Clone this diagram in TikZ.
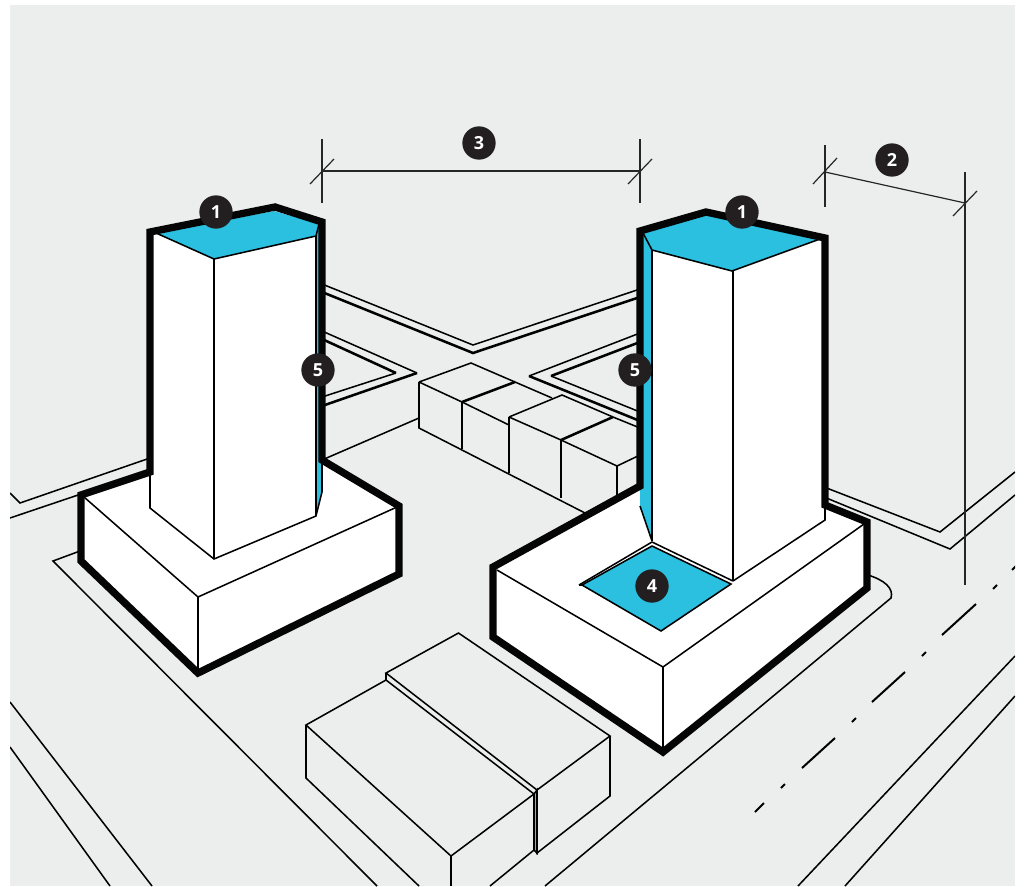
\documentclass[tikz,border=0pt]{standalone}
\usepackage{fontspec}
\setmainfont{Open Sans}
\definecolor{bgc}{HTML}{ECEEED}
\definecolor{bluec}{HTML}{2BBFE0}
\definecolor{badge}{HTML}{231F20}
\tikzset{
  thinl/.style={draw=black,line width=1.15pt,line join=miter,line cap=butt},
  medl/.style={draw=black,line width=1.9pt,line join=miter},
  dashl/.style={draw=black,line width=1.5pt},
  dimen/.style={draw=black!85,line width=0.9pt},
  thickl/.style={draw=black!98,line width=5.5pt,line join=miter,miter limit=6},
  wall/.style={fill=white},
  glass/.style={fill=bluec},
  numbadge/.style={circle,fill=badge,text=white,inner sep=0pt,minimum size=25pt,font=\fontsize{13.5}{14}\selectfont\bfseries}
}
\begin{document}
\begin{tikzpicture}[x=0.75pt,y=-0.75pt]
\useasboundingbox (0,0) rectangle (1024,886);
\fill[white] (0,0) rectangle (1024,886);
\fill[bgc] (10,5) rectangle (1015,886);
\begin{scope}
\clip (10,5) rectangle (1015,886);
% ground lines, left
\path[thinl] (10,493) -- (20,503) -- (150,458);
\path[thinl] (10,518) -- (84,493);
\path[thinl] (80,551) -- (53,561) -- (377,886);
\path[thinl] (10,702) -- (152,886);
\path[thinl] (10,747) -- (110,886);
% streets centre
\path[thinl] (322,284) -- (473,345) -- (640,289);
\path[medl] (322,292) -- (473,353) -- (640,297);
\path[thinl] (322,331) -- (417,373);
\path[medl] (417,373) -- (322,406);
\path[medl] (322,339) -- (396,373);
\path[thinl] (396,373) -- (322,397);
\path[thinl] (640,333) -- (529,376);
\path[medl] (529,376) -- (640,421);
\path[medl] (640,342) -- (551,376);
\path[thinl] (551,376) -- (640,412);
\path[thinl] (322,460) -- (419,418);
% small blocks
\path[thinl] (419,382) -- (471,363) -- (515,382);
\path[thinl] (419,382) -- (462,402);
\path[medl] (462,402) -- (515,382);
\path[thinl] (419,382) -- (419,428) -- (585,513);
\path[thinl] (462,402) -- (462,449);
\path[thinl] (462,402) -- (509,425);
\path[thinl] (515,382) -- (552,398);
\path[thinl] (509,417) -- (562,395) -- (613,417);
\path[thinl] (509,417) -- (561,440);
\path[medl] (561,440) -- (613,417);
\path[thinl] (509,417) -- (509,473);
\path[thinl] (561,440) -- (561,498);
\path[thinl] (613,417) -- (640,428);
\path[thinl] (561,440) -- (617,466) -- (640,455);
\path[thinl] (617,466) -- (617,495);
% ground lines, right
\path[thinl] (824,487) -- (940,532) -- (1015,472);
\path[thinl] (824,497) -- (950,549) -- (1015,495);
\path[thinl] (868,575) .. controls (884,580) and (894,588) .. (891,598) -- (545,886);
\path[thinl] (798,886) -- (1015,656);
\path[thinl] (845,886) -- (1015,696);
% dimension lines
\path[dimen] (322,139) -- (322,203);
\path[dimen] (640,139) -- (640,203);
\path[dimen] (322,171) -- (640,171);
\path[dimen] (310,184) -- (334,159);
\path[dimen] (628,184) -- (652,159);
\path[dimen] (825,145) -- (825,207);
\path[dimen] (825,172) -- (965,203);
\path[dimen] (813,184) -- (837,158);
\path[dimen] (953,216) -- (977,191);
\path[dimen] (965,172) -- (965,585);
% centre line of the road
\path[dashl] (755,812) -- (764,803);
\path[dashl] (781,788) -- (785,784);
\path[dashl] (802,768) -- (835,738);
\path[dashl] (852,722) -- (856,718);
\path[dashl] (872,702) -- (905,672);
\path[dashl] (922,656) -- (926,652);
\path[dashl] (942,635) -- (976,604);
\path[dashl] (993,589) -- (997,585);
\path[dashl] (1012,570) -- (1016,566);
% low buildings
\path[thinl] (458.5,633) -- (386,673) -- (537,790) -- (610,736) -- cycle;
\path[thinl] (610,736) -- (610,796) -- (537,853) -- (537,790);
\path[thinl] (386,673) -- (386,680);
\path[thinl] (306,725) -- (386,680) -- (534,794) -- (451,856) -- cycle;
\path[thinl] (306,725) -- (306,778) -- (419,886);
\path[thinl] (451,856) -- (451,886);
\path[thinl,fill=black!35] (534,794) -- (537,790) -- (537,853) -- (534,850) -- cycle;
\path[thinl] (534,850) -- (490,886);
% left building
\path[wall] (150,232) -- (275,207) -- (322,222) -- (322,460) -- (399,506) -- (399,574) -- (198,673) -- (81,561) -- (81,495) -- (150,472) -- cycle;
\path[glass] (156,233) -- (274,211) -- (319,224) -- (316,236) -- (214,259) -- cycle;
\path[glass] (319,224) -- (316,236) -- (316,516) -- (322,492) -- (322,224) -- cycle;
\path[thinl] (150,472) -- (150,508) -- (214,559) -- (316,516) -- (322,492) -- (322,460);
\path[thinl] (214,259) -- (214,559);
\path[thinl] (156,233) -- (214,259) -- (316,236) -- (319,224);
\path[thinl] (316,236) -- (316,516);
\path[thinl] (84,497) -- (198,597) -- (397,507);
\path[thinl] (198,597) -- (198,670);
\path[thickl] (150,472) -- (150,232) -- (275,207) -- (322,222) -- (322,460) -- (399,506) -- (399,574) -- (198,673) -- (81,561) -- (81,495) -- cycle;
% right building
\path[wall] (640,231) -- (706,212) -- (825,238) -- (825,505) -- (867,522) -- (867,588) -- (663,752) -- (493,637) -- (493,567) -- (640,486) -- cycle;
\path[glass] (643,233) -- (706,215) -- (820,239) -- (732,271) -- (652,250) -- cycle;
\path[glass] (643,233) -- (652,250) -- (652,541) -- (640,506) -- (640,233) -- cycle;
\path[thinl] (640,506) -- (652,541);
\path[medl] (652,250) -- (652,541);
\path[thinl] (643,233) -- (652,250) -- (732,271) -- (820,239);
\path[thinl] (733,271) -- (733,581);
\path[thinl] (733,581) -- (825,520) -- (825,505);
\path[thinl] (497,570) -- (663,667) -- (864,524);
\path[thinl] (663,667) -- (663,749);
\path[thinl] (579,585) -- (652,542) -- (733,581);
\path[thinl,glass] (582,585) -- (652,546) -- (731,584) -- (661,631) -- cycle;
\path[thinl] (579,585) -- (582,585);
\path[thickl] (640,486) -- (640,231) -- (706,212) -- (825,238) -- (825,505) -- (867,522) -- (867,588) -- (663,752) -- (493,637) -- (493,567) -- cycle;
\end{scope}
% badges
\node[numbadge] (b1a) at (216,212) {1};
\node[numbadge] (b1b) at (742,212) {1};
\node[numbadge] (b2) at (892,160) {2};
\node[numbadge] (b3) at (479,143) {3};
\node[numbadge] (b4) at (652,586) {4};
\node[numbadge] (b5a) at (318,370) {5};
\node[numbadge] (b5b) at (635,370) {5};
\end{tikzpicture}
\end{document}
